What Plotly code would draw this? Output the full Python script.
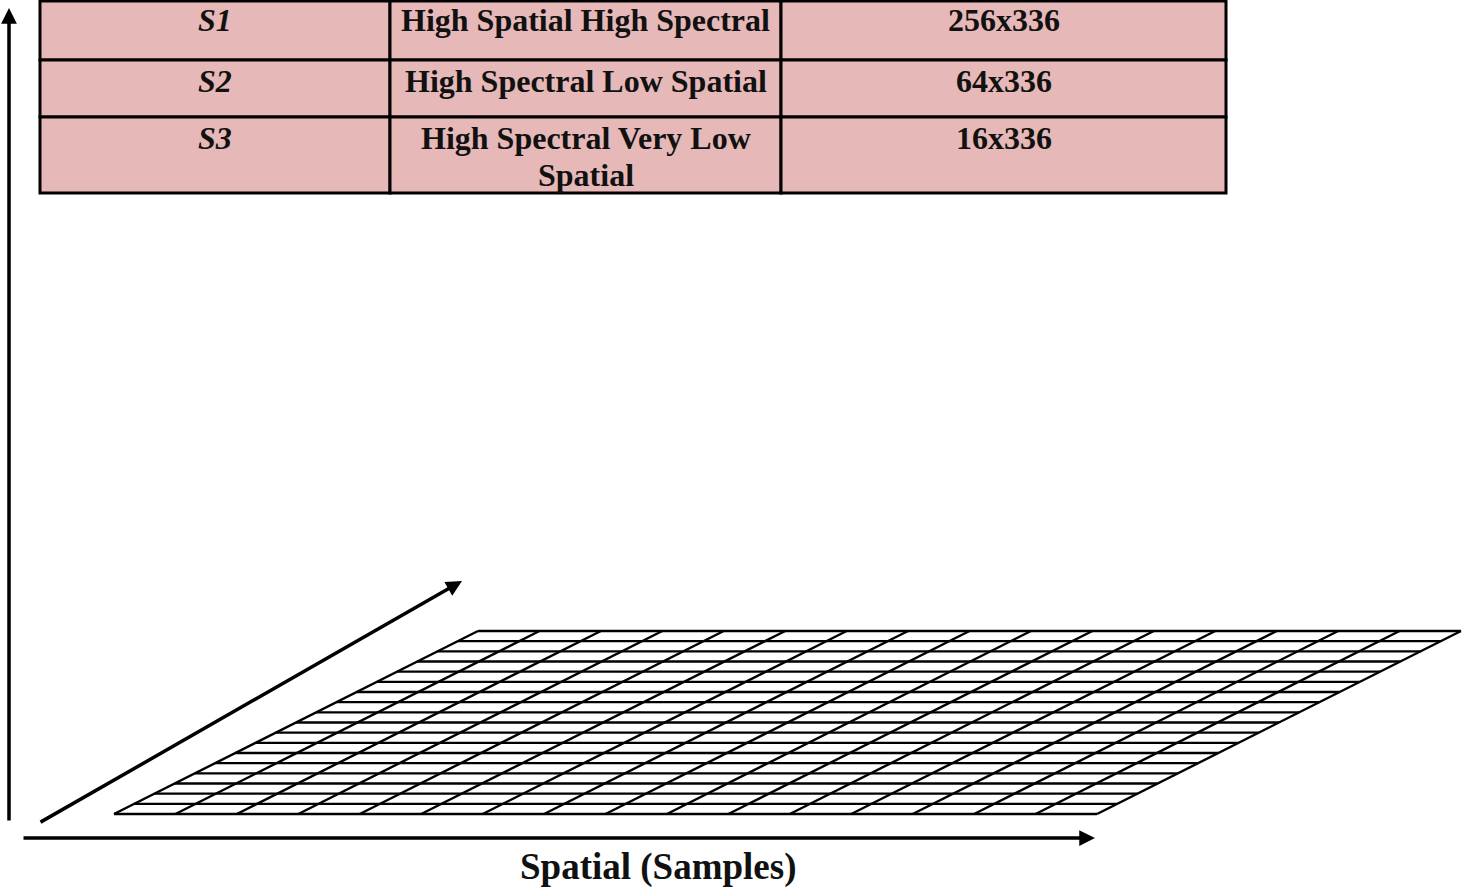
import plotly.graph_objects as go

# ---- data ----
row_ids = ["S1", "S2", "S3"]
row_desc = ["High Spatial High Spectral", "High Spectral Low Spatial", "High Spectral Very Low<br>Spatial"]
row_size = ["256x336", "64x336", "16x336"]
x_axis_label = "Spatial (Samples)"
grid_rows = 18
grid_cols = 16

# ---- layout constants (pixel space) ----
W, H = 1468, 892
FONT = "Liberation Serif"
PINK = "#E6B8B7"

# table geometry
tab_x = [40, 390, 781, 1226]
tab_y = [1, 60, 117, 193]
text_y = [20, 81, 138]
line_gap = 37

# grid geometry (parallelogram)
g_bl = (114, 814)
g_br = (1097, 814)
g_tl = (478, 631)

fig = go.Figure()

# grid lines
shear = g_tl[0] - g_bl[0]
gh = g_bl[1] - g_tl[1]
gw = g_br[0] - g_bl[0]
xs, ys = [], []
for i in range(grid_rows + 1):
    f = i / grid_rows
    y = g_bl[1] - f * gh
    xs += [g_bl[0] + shear * f, g_br[0] + shear * f, None]
    ys += [y, y, None]
for j in range(grid_cols + 1):
    x0 = g_bl[0] + gw * j / grid_cols
    xs += [x0, x0 + shear, None]
    ys += [g_bl[1], g_tl[1], None]
fig.add_trace(go.Scatter(x=xs, y=ys, mode="lines",
                         line=dict(color="black", width=2.4),
                         hoverinfo="skip", showlegend=False))

shapes = []
# table cells
for r in range(3):
    for c in range(3):
        shapes.append(dict(type="rect", xref="x", yref="y",
                           x0=tab_x[c], x1=tab_x[c + 1], y0=tab_y[r], y1=tab_y[r + 1],
                           fillcolor=PINK, line=dict(color="black", width=3), layer="below"))

annotations = []
for r in range(3):
    cols = [[f"<b><i>{row_ids[r]}</i></b>"],
            [f"<b>{t}</b>" for t in row_desc[r].split("<br>")],
            [f"<b>{row_size[r]}</b>"]]
    for c in range(3):
        cx = (tab_x[c] + tab_x[c + 1]) / 2
        for k, txt in enumerate(cols[c]):
            annotations.append(dict(x=cx, y=text_y[r] + k * line_gap, xref="x", yref="y",
                                    text=txt, showarrow=False, xanchor="center",
                                    yanchor="middle",
                                    font=dict(family=FONT, size=32, color="#111111")))

# arrows
arrows = [
    ((9, 822), (9, 8)),
    ((22, 838), (1095, 838)),
    ((39, 823), (462, 581)),
]
for (sx, sy), (ex, ey) in arrows:
    annotations.append(dict(x=ex, y=ey, ax=sx, ay=sy, xref="x", yref="y",
                            axref="x", ayref="y", text="", showarrow=True,
                            arrowhead=2, arrowsize=0.9, arrowwidth=3.5,
                            arrowcolor="black", standoff=0))

annotations.append(dict(x=658, y=867, xref="x", yref="y", text=f"<b>{x_axis_label}</b>",
                        showarrow=False, xanchor="center", yanchor="middle",
                        font=dict(family=FONT, size=37, color="#111111")))

fig.update_layout(
    width=W, height=H,
    margin=dict(l=0, r=0, t=0, b=0),
    paper_bgcolor="white", plot_bgcolor="white",
    xaxis=dict(range=[0, W], visible=False, fixedrange=True),
    yaxis=dict(range=[H, 0], visible=False, fixedrange=True),
    shapes=shapes, annotations=annotations,
    showlegend=False,
)

fig.write_html("out.html", config={"displayModeBar": False},
               post_script="document.body.style.margin='0';document.body.style.overflow='hidden';")
